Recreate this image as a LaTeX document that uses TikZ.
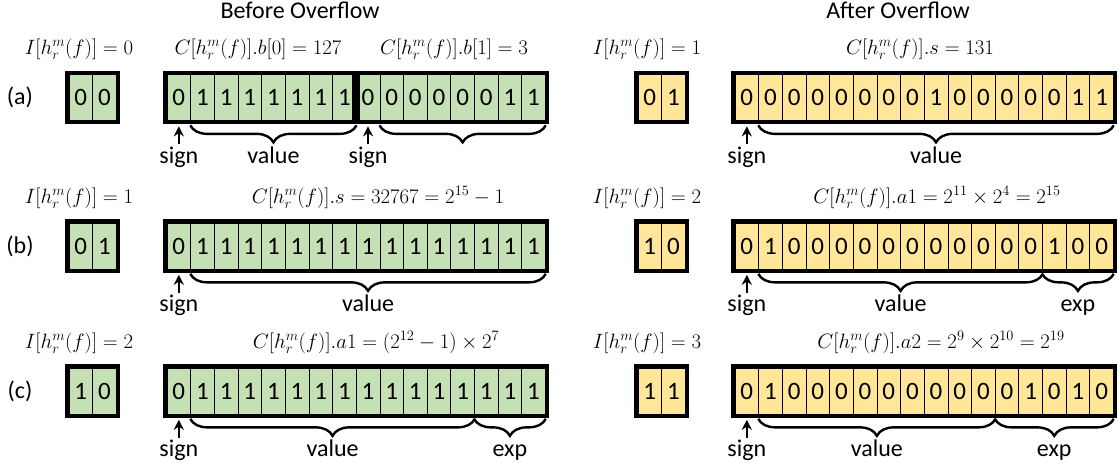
\documentclass[tikz,border=0pt]{standalone}
\usepackage{fontspec}
\setsansfont{Carlito}
\usetikzlibrary{positioning,fit,calc,decorations.pathreplacing,arrows.meta}
\definecolor{bitgreen}{RGB}{197,224,180}
\definecolor{bityellow}{RGB}{255,230,153}
\tikzset{
    every node/.style={inner sep=0mm, font=\fontsize{24}{27}\sffamily}
}
\tikzset{
    bit/.style={rectangle, draw, line width=0.7pt, minimum width=23.65pt, minimum height=46pt, font=\fontsize{25}{28}\sffamily},
    gbit/.style={bit, fill=bitgreen},
    ybit/.style={bit, fill=bityellow},
    frame/.style={rectangle, draw, line width=3.5pt, inner sep=1.75pt},
    txt/.style={anchor=base},
    mlab/.style={anchor=base, font=\fontsize{19.5}{22}\selectfont},
    brc/.style={decorate, decoration={brace, mirror, amplitude=17pt}, line width=2.4pt},
    sgn/.style={-{Stealth[length=10pt, width=10pt]}, line width=2pt, shorten <=2pt, shorten >=2pt}
}

\begin{document}
\begin{tikzpicture}[x=1pt, y=-1pt]
    \useasboundingbox (0,0) rectangle (1119,472);

    \node (tbf) [txt] at (300,18) {Before Overflow};
    \node (taf) [txt] at (898,18) {After Overflow};

    % (a)
    \node (ra) at (20,97.5) {(a)};
    \node (libfa) [mlab] at (79,54.5) {$I[h_r^m(f)] = 0$};
    \node (lbfa1) [mlab] at (258,54.5) {$C[h_r^m(f)].b[0] = 127$};
    \node (lbfa2) [mlab] at (454,54.5) {$C[h_r^m(f)].b[1] = 3$};
    \node (liafa) [mlab] at (647,54.5) {$I[h_r^m(f)] = 1$};
    \node (lafa) [mlab] at (920,54.5) {$C[h_r^m(f)].s = 131$};

    \foreach \b [count=\i] in {0,0}
        \node (ibfa\i) [gbit] at (57.175+23.65*\i,97.5) {\b};
    \foreach \b [count=\i] in {0,1,1,1,1,1,1,1,0,0,0,0,0,0,1,1}
        \node (bfa\i) [gbit] at (155.175+23.65*\i,97.5) {\b};
    \foreach \b [count=\i] in {0,1}
        \node (iafa\i) [ybit] at (626.175+23.65*\i,97.5) {\b};
    \foreach \b [count=\i] in {0,0,0,0,0,0,0,0,1,0,0,0,0,0,1,1}
        \node (afa\i) [ybit] at (723.175+23.65*\i,97.5) {\b};

    \node (fibfa) [frame, fit=(ibfa1)(ibfa2)] {};
    \node (fbfa1) [frame, fit=(bfa1)(bfa8)] {};
    \node (fbfa2) [frame, fit=(bfa9)(bfa16)] {};
    \node (fiafa) [frame, fit=(iafa1)(iafa2)] {};
    \node (fafa) [frame, fit=(afa1)(afa16)] {};

    \node (sbfa1) [txt] at ($(bfa1)+(0,65.5)$) {sign};
    \node (sbfa2) [txt] at ($(bfa9)+(0,65.5)$) {sign};
    \node (safa) [txt] at ($(afa1)+(0,65.5)$) {sign};
    \draw[sgn] (sbfa1.north) -- (sbfa1.north |- fbfa1.south);
    \draw[sgn] (sbfa2.north) -- (sbfa2.north |- fbfa2.south);
    \draw[sgn] (safa.north) -- (safa.north |- fafa.south);

    \draw[brc] ($(bfa2.west |- fbfa1.south)+(0,1)$) -- ($(bfa8.east |- fbfa1.south)+(0,1)$);
    \draw[brc] ($(bfa10.west |- fbfa2.south)+(0,1)$) -- ($(bfa16.east |- fbfa2.south)+(0,1)$);
    \draw[brc] ($(afa2.west |- fafa.south)+(0,1)$) -- ($(afa16.east |- fafa.south)+(0,1)$);
    \node (vbfa1) [txt] at ($(bfa2.west)!0.5!(bfa8.east)+(0,65.5)$) {value};
    \node (vafa) [txt] at ($(afa2.west)!0.5!(afa16.east)+(0,65.5)$) {value};

    % (b)
    \node (rb) at (20,246) {(b)};
    \node (libfb) [mlab] at (79,203) {$I[h_r^m(f)] = 1$};
    \node (lbfb) [mlab] at (378,203) {$C[h_r^m(f)].s = 32767 = 2^{15}-1$};
    \node (liafb) [mlab] at (647,203) {$I[h_r^m(f)] = 2$};
    \node (lafb) [mlab] at (937,203) {$C[h_r^m(f)].a1 = 2^{11}\times 2^{4} = 2^{15}$};

    \foreach \b [count=\i] in {0,1}
        \node (ibfb\i) [gbit] at (57.175+23.65*\i,246) {\b};
    \foreach \b [count=\i] in {0,1,1,1,1,1,1,1,1,1,1,1,1,1,1,1}
        \node (bfb\i) [gbit] at (155.175+23.65*\i,246) {\b};
    \foreach \b [count=\i] in {1,0}
        \node (iafb\i) [ybit] at (626.175+23.65*\i,246) {\b};
    \foreach \b [count=\i] in {0,1,0,0,0,0,0,0,0,0,0,0,0,1,0,0}
        \node (afb\i) [ybit] at (723.175+23.65*\i,246) {\b};

    \node (fibfb) [frame, fit=(ibfb1)(ibfb2)] {};
    \node (fbfb) [frame, fit=(bfb1)(bfb16)] {};
    \node (fiafb) [frame, fit=(iafb1)(iafb2)] {};
    \node (fafb) [frame, fit=(afb1)(afb16)] {};

    \node (sbfb) [txt] at ($(bfb1)+(0,65.5)$) {sign};
    \node (safb) [txt] at ($(afb1)+(0,65.5)$) {sign};
    \draw[sgn] (sbfb.north) -- (sbfb.north |- fbfb.south);
    \draw[sgn] (safb.north) -- (safb.north |- fafb.south);

    \draw[brc] ($(bfb2.west |- fbfb.south)+(0,1)$) -- ($(bfb16.east |- fbfb.south)+(0,1)$);
    \draw[brc] ($(afb2.west |- fafb.south)+(0,1)$) -- ($(afb13.east |- fafb.south)+(0,1)$);
    \draw[brc] ($(afb14.west |- fafb.south)+(0,1)$) -- ($(afb16.east |- fafb.south)+(0,1)$);
    \node (vbfb) [txt] at ($(bfb2.west)!0.5!(bfb16.east)+(0,65.5)$) {value};
    \node (vafb) [txt] at ($(afb2.west)!0.5!(afb13.east)+(0,65.5)$) {value};
    \node (eafb) [txt] at ($(afb14.west)!0.5!(afb16.east)+(0,65.5)$) {exp};

    % (c)
    \node (rc) at (20,391) {(c)};
    \node (libfc) [mlab] at (79,348) {$I[h_r^m(f)] = 2$};
    \node (lbfc) [mlab] at (376,348) {$C[h_r^m(f)].a1 = (2^{12}-1)\times 2^{7}$};
    \node (liafc) [mlab] at (647,348) {$I[h_r^m(f)] = 3$};
    \node (lafc) [mlab] at (941,348) {$C[h_r^m(f)].a2 = 2^{9}\times 2^{10} = 2^{19}$};

    \foreach \b [count=\i] in {1,0}
        \node (ibfc\i) [gbit] at (57.175+23.65*\i,391) {\b};
    \foreach \b [count=\i] in {0,1,1,1,1,1,1,1,1,1,1,1,1,1,1,1}
        \node (bfc\i) [gbit] at (155.175+23.65*\i,391) {\b};
    \foreach \b [count=\i] in {1,1}
        \node (iafc\i) [ybit] at (626.175+23.65*\i,391) {\b};
    \foreach \b [count=\i] in {0,1,0,0,0,0,0,0,0,0,0,0,1,0,1,0}
        \node (afc\i) [ybit] at (723.175+23.65*\i,391) {\b};

    \node (fibfc) [frame, fit=(ibfc1)(ibfc2)] {};
    \node (fbfc) [frame, fit=(bfc1)(bfc16)] {};
    \node (fiafc) [frame, fit=(iafc1)(iafc2)] {};
    \node (fafc) [frame, fit=(afc1)(afc16)] {};

    \node (sbfc) [txt] at ($(bfc1)+(0,65.5)$) {sign};
    \node (safc) [txt] at ($(afc1)+(0,65.5)$) {sign};
    \draw[sgn] (sbfc.north) -- (sbfc.north |- fbfc.south);
    \draw[sgn] (safc.north) -- (safc.north |- fafc.south);

    \draw[brc] ($(bfc2.west |- fbfc.south)+(0,1)$) -- ($(bfc13.east |- fbfc.south)+(0,1)$);
    \draw[brc] ($(bfc14.west |- fbfc.south)+(0,1)$) -- ($(bfc16.east |- fbfc.south)+(0,1)$);
    \draw[brc] ($(afc2.west |- fafc.south)+(0,1)$) -- ($(afc11.east |- fafc.south)+(0,1)$);
    \draw[brc] ($(afc12.west |- fafc.south)+(0,1)$) -- ($(afc16.east |- fafc.south)+(0,1)$);
    \node (vbfc) [txt] at ($(bfc2.west)!0.5!(bfc13.east)+(0,65.5)$) {value};
    \node (ebfc) [txt] at ($(bfc14.west)!0.5!(bfc16.east)+(0,65.5)$) {exp};
    \node (vafc) [txt] at ($(afc2.west)!0.5!(afc11.east)+(0,65.5)$) {value};
    \node (eafc) [txt] at ($(afc12.west)!0.5!(afc16.east)+(0,65.5)$) {exp};
\end{tikzpicture}
\end{document}
